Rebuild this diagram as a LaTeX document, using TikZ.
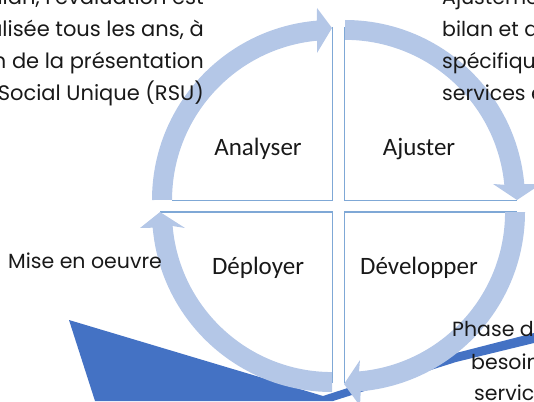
\documentclass[tikz,border=0pt]{standalone}
\usepackage{fontspec}
\setmainfont{Poppins}
\newfontfamily\lab{Carlito}
\definecolor{ringc}{HTML}{B4C7E7}
\definecolor{linec}{HTML}{7FA8D6}
\definecolor{bluec}{HTML}{4472C4}
\tikzset{
 quad/.style={draw=linec,line width=1.1pt},
 qlabel/.style={font=\lab\fontsize{25}{25}\selectfont,text=black!90,anchor=base,inner sep=0},
 para/.style={font=\fontsize{20.5}{20.5}\selectfont,text=black!90,inner sep=0},
 paral/.style={font=\fontsize{21}{21}\selectfont,text=black!90,inner sep=0},
 ringa/.style={fill=ringc,draw=none}
}
\begin{document}
\begin{tikzpicture}[x=1pt,y=-1pt]
\useasboundingbox (0,0) rectangle (534,401);
\clip (0,0) rectangle (534,401);
% dark freeform
\fill[bluec] (69,320) -- (323,396) -- (456,353) -- (534,333) -- (534,343) -- (456,362) -- (333,401) -- (95,401) -- cycle;
% quadrants
\draw[quad] (332.5,27) -- (332.5,200.5) -- (172,200.5);
\draw[quad] (344.5,27) -- (344.5,200.5) -- (517,200.5);
\draw[quad] (160,212) -- (332.5,212) -- (332.5,383);
\draw[quad] (517,212) -- (344.5,212) -- (344.5,383);
% ring arrows
\fill[ringa] (152,200) arc[start angle=180,end angle=265.2,radius=180] -- (317,8) -- (332,28) -- (317,53) -- (317,40.7) arc[start angle=264.6,end angle=180,radius=160] -- cycle;
\fill[ringa] (345,20) arc[start angle=270,end angle=354.9,radius=180] -- (541,184) -- (517,200) -- (493,184) -- (504.3,184.8) arc[start angle=354.6,end angle=270,radius=160] -- cycle;
\fill[ringa] (525,212) arc[start angle=0,end angle=85,radius=180] -- (360,406) -- (344,384) -- (360,360) -- (359,371.4) arc[start angle=85,end angle=0,radius=160] -- cycle;
\fill[ringa] (332,392) arc[start angle=90,end angle=175,radius=180] -- (140,228) -- (160,212) -- (185,228) -- (172.6,226) arc[start angle=175,end angle=90,radius=160] -- cycle;
% labels
\node[qlabel] (an) at (258,155) {Analyser};
\node[qlabel] (aj) at (419,155) {Ajuster};
\node[qlabel] (de) at (258,274) {Déployer};
\node[qlabel] (dv) at (419,274) {Développer};
% texts
\node[paral,anchor=base east] (t1) at (204,5) {ilan, l'évaluation est};
\node[paral,anchor=base east] (t2) at (204,37) {alisée tous les ans, à};
\node[paral,anchor=base east] (t3) at (204,69) {n de la présentation};
\node[paral,anchor=base east] (t4) at (204,100) {Social Unique (RSU)};
\node[para,anchor=base west] (r1) at (442,5) {Ajusteme};
\node[para,anchor=base west] (r2) at (442,37) {bilan et d};
\node[para,anchor=base west] (r3) at (442,69) {spécifique};
\node[para,anchor=base west] (r4) at (442,100) {services e};
\node[para,anchor=base west] (m) at (8,268) {Mise en oeuvre};
\node[para,anchor=base west] (p1) at (452,336) {Phase d};
\node[para,anchor=base west] (p2) at (471,369) {besoin};
\node[para,anchor=base west] (p3) at (474,400) {service};
\end{tikzpicture}
\end{document}
